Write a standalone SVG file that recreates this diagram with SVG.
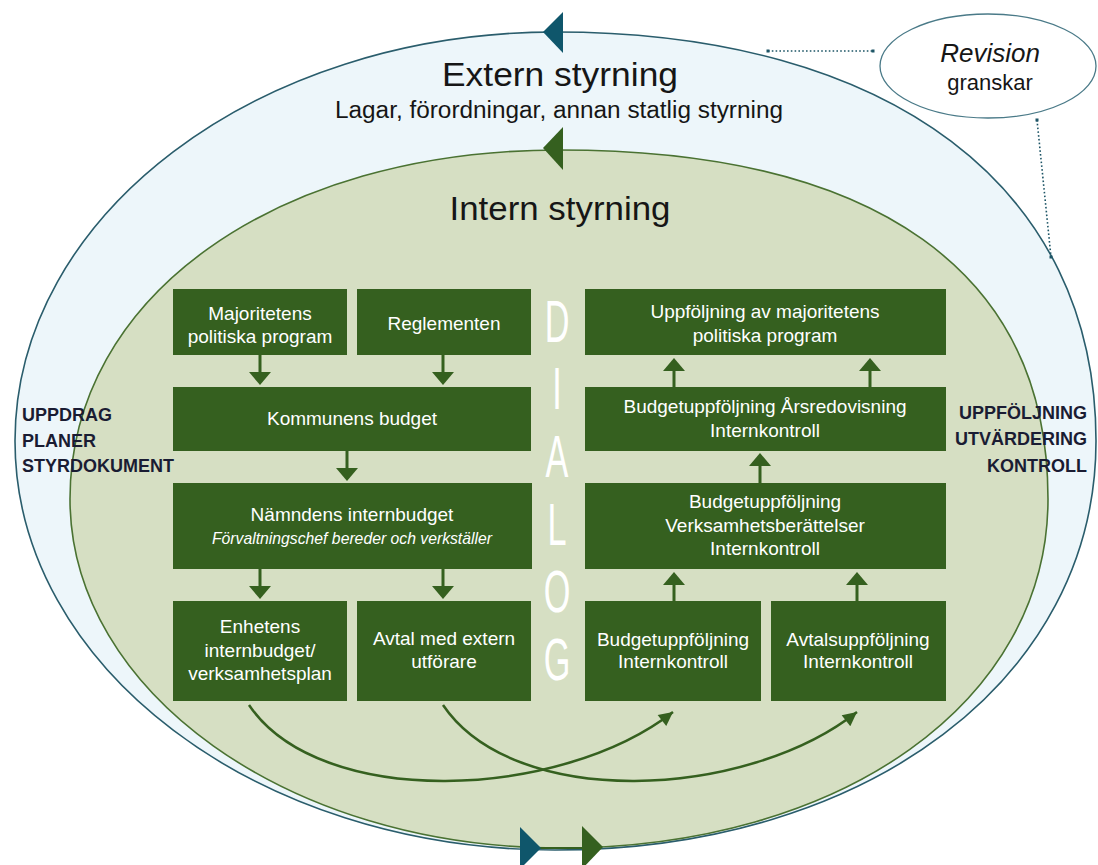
<svg xmlns="http://www.w3.org/2000/svg" width="1098" height="865" viewBox="0 0 1098 865">
<defs>
<style>
text{font-family:"Liberation Sans",Arial,sans-serif}
.box{fill:#35601f}
.bt{fill:#ffffff;font-size:19px;text-anchor:middle}
.it{font-style:italic;font-size:17px}
.side{fill:#1a1c33;font-size:18px;font-weight:bold}
.title{fill:#161616;font-size:33px;text-anchor:middle}
.dlg{fill:#ffffff;font-size:59px;text-anchor:middle}
.arr{stroke:#35601f;stroke-width:3;fill:none}
.head{fill:#35601f}
.curve{stroke:#35601f;stroke-width:2.5;fill:none}
.dot{stroke:#1d5566;stroke-width:1.6;stroke-dasharray:1.6 2.2;fill:none}
.sq{fill:#1d5566}
</style>
<marker id="ah" viewBox="0 0 10 10" refX="10" refY="5" markerWidth="16" markerHeight="14" markerUnits="userSpaceOnUse" orient="auto">
<path d="M0,0 L10,5 L0,10 z" fill="#35601f"/>
</marker>
</defs>
<rect width="1098" height="865" fill="#ffffff"/>

<g id="outer-ellipse">
<path d="M555,32 C890.4,32 1096,187.4 1096,441 C1096,678.2 868.8,850 555,850 C256.8,850 15,666.9 15,441 C15,215.1 256.8,32 555,32 Z" fill="#edf6fa" stroke="#2a5d6c" stroke-width="1.6"/>
</g>
<g id="inner-ellipse">
<path d="M559,150 C876.9,150 1048,272.2 1048,499 C1048,701.4 842.6,848 559,848 C288.9,848 70,691.8 70,499 C70,296.6 275.4,150 559,150 Z" fill="#d6dfc3" stroke="#4a7232" stroke-width="1.6"/>
</g>

<g id="cycle-markers">
<polygon points="563,12 563,53 543,32" fill="#0f566b"/>
<polygon points="563,127 563,170 543,148" fill="#35601f"/>
<line x1="538" y1="848" x2="584" y2="848" stroke="#35601f" stroke-width="2"/>
<polygon points="520,827 520,869 541,848" fill="#0f566b"/>
<polygon points="582,826 582,869 603,847" fill="#35601f"/>
</g>

<g id="titles">
<text class="title" x="560" y="86" textLength="236" lengthAdjust="spacingAndGlyphs">Extern styrning</text>
<text x="559" y="118" fill="#161616" font-size="23" text-anchor="middle" textLength="448" lengthAdjust="spacingAndGlyphs">Lagar, förordningar, annan statlig styrning</text>
<text class="title" x="560" y="220" textLength="221" lengthAdjust="spacingAndGlyphs">Intern styrning</text>
</g>

<g id="revision">
<ellipse cx="988" cy="66" rx="108" ry="52" fill="#ffffff" stroke="#4a7a88" stroke-width="1.3"/>
<text x="990" y="62" fill="#161616" font-size="26" font-style="italic" text-anchor="middle">Revision</text>
<text x="990" y="90" fill="#161616" font-size="22" text-anchor="middle">granskar</text>
</g>

<g id="connectors">
<path class="dot" d="M768,51 L873,51"/>
<rect class="sq" x="766.5" y="49.5" width="3" height="3"/>
<rect class="sq" x="871.5" y="49.5" width="3" height="3"/>
<path class="dot" d="M1037,120 L1051,257"/>
<rect class="sq" x="1035.5" y="118.5" width="3" height="3"/>
<rect class="sq" x="1049.5" y="255.5" width="3" height="3"/>

<line class="arr" x1="260" y1="355" x2="260" y2="373"/>
<polygon class="head" points="249,372 271,372 260,385"/>
<line class="arr" x1="443" y1="355" x2="443" y2="373"/>
<polygon class="head" points="432,372 454,372 443,385"/>
<line class="arr" x1="347" y1="451" x2="347" y2="469"/>
<polygon class="head" points="336,468 358,468 347,481"/>
<line class="arr" x1="260" y1="569" x2="260" y2="587"/>
<polygon class="head" points="249,586 271,586 260,599"/>
<line class="arr" x1="443" y1="569" x2="443" y2="587"/>
<polygon class="head" points="432,586 454,586 443,599"/>

<line class="arr" x1="674" y1="387" x2="674" y2="370"/>
<polygon class="head" points="663,371 685,371 674,358"/>
<line class="arr" x1="870" y1="387" x2="870" y2="370"/>
<polygon class="head" points="859,371 881,371 870,358"/>
<line class="arr" x1="760" y1="483" x2="760" y2="465"/>
<polygon class="head" points="749,466 771,466 760,453"/>
<line class="arr" x1="674" y1="601" x2="674" y2="584"/>
<polygon class="head" points="663,585 685,585 674,572"/>
<line class="arr" x1="857" y1="601" x2="857" y2="584"/>
<polygon class="head" points="846,585 868,585 857,572"/>

<path class="curve" d="M249,705 C320,810 560,800 673,712" marker-end="url(#ah)"/>
<path class="curve" d="M443,705 C514,810 745,800 857,712" marker-end="url(#ah)"/>
</g>

<g id="box-majoritetens">
<rect class="box" x="173" y="289" width="174" height="66"/>
<text class="bt" x="260" y="320">Majoritetens</text>
<text class="bt" x="260" y="343">politiska program</text>
</g>
<g id="box-reglementen">
<rect class="box" x="357" y="289" width="174" height="66"/>
<text class="bt" x="444" y="330">Reglementen</text>
</g>
<g id="box-kommunens-budget">
<rect class="box" x="173" y="387" width="358" height="64"/>
<text class="bt" x="352" y="425">Kommunens budget</text>
</g>
<g id="box-namndens-internbudget">
<rect class="box" x="173" y="483" width="359" height="86"/>
<text class="bt" x="352" y="521">Nämndens internbudget</text>
<text class="bt it" x="352" y="544" textLength="280" lengthAdjust="spacingAndGlyphs">Förvaltningschef bereder och verkställer</text>
</g>
<g id="box-enhetens">
<rect class="box" x="173" y="601" width="174" height="100"/>
<text class="bt" x="260" y="633">Enhetens</text>
<text class="bt" x="260" y="657">internbudget/</text>
<text class="bt" x="260" y="680">verksamhetsplan</text>
</g>
<g id="box-avtal">
<rect class="box" x="357" y="601" width="174" height="100"/>
<text class="bt" x="444" y="645">Avtal med extern</text>
<text class="bt" x="444" y="668">utförare</text>
</g>

<g id="box-uppfoljning-majoritetens">
<rect class="box" x="585" y="289" width="361" height="66"/>
<text class="bt" x="765" y="318">Uppföljning av majoritetens</text>
<text class="bt" x="765" y="342">politiska program</text>
</g>
<g id="box-arsredovisning">
<rect class="box" x="585" y="387" width="361" height="64"/>
<text class="bt" x="765" y="413">Budgetuppföljning Årsredovisning</text>
<text class="bt" x="765" y="437">Internkontroll</text>
</g>
<g id="box-verksamhetsberattelser">
<rect class="box" x="585" y="483" width="361" height="86"/>
<text class="bt" x="765" y="508">Budgetuppföljning</text>
<text class="bt" x="765" y="532">Verksamhetsberättelser</text>
<text class="bt" x="765" y="555">Internkontroll</text>
</g>
<g id="box-budgetuppfoljning">
<rect class="box" x="585" y="601" width="176" height="100"/>
<text class="bt" x="673" y="646">Budgetuppföljning</text>
<text class="bt" x="673" y="668">Internkontroll</text>
</g>
<g id="box-avtalsuppfoljning">
<rect class="box" x="771" y="601" width="175" height="100"/>
<text class="bt" x="858" y="646">Avtalsuppföljning</text>
<text class="bt" x="858" y="668">Internkontroll</text>
</g>

<g id="dialog">
<text class="dlg" transform="translate(557,342) scale(0.58,1)">D</text>
<text class="dlg" transform="translate(557,409) scale(0.58,1)">I</text>
<text class="dlg" transform="translate(557,477) scale(0.58,1)">A</text>
<text class="dlg" transform="translate(557,545) scale(0.58,1)">L</text>
<text class="dlg" transform="translate(557,612) scale(0.58,1)">O</text>
<text class="dlg" transform="translate(557,680) scale(0.58,1)">G</text>
</g>

<g id="side-labels">
<text class="side" x="22" y="421">UPPDRAG</text>
<text class="side" x="22" y="447">PLANER</text>
<text class="side" x="22" y="472">STYRDOKUMENT</text>
<text class="side" x="1087" y="419" text-anchor="end">UPPFÖLJNING</text>
<text class="side" x="1087" y="445" text-anchor="end">UTVÄRDERING</text>
<text class="side" x="1087" y="472" text-anchor="end">KONTROLL</text>
</g>
</svg>
